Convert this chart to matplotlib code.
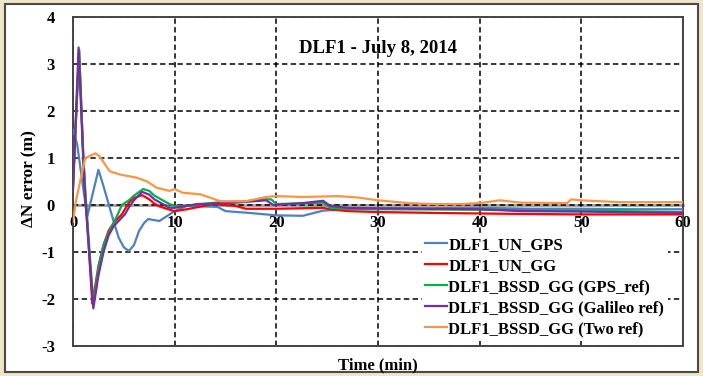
import numpy as np
import matplotlib
matplotlib.use("Agg")
import matplotlib.pyplot as plt
from matplotlib.patches import Rectangle

plt.rcParams['font.family'] = ['Liberation Serif', 'DejaVu Serif']
plt.rcParams['font.weight'] = 'bold'
plt.rcParams['axes.unicode_minus'] = False

# Blue: DLF1_UN_GPS
t_un_gps = [0, 0.4, 1.4, 2.5, 3.0, 4.0, 4.5, 5.0, 5.5, 6.0, 6.5, 7.0, 7.4, 8.5, 9.5, 10,
            11.2, 14.2, 15, 17.4, 20, 22.6, 24.6, 27, 30, 35, 40, 45, 50, 55, 60]
n_un_gps = [1.6, 1.3, -0.25, 0.75, 0.4, -0.35, -0.7, -0.9, -0.98, -0.85, -0.55, -0.38, -0.3, -0.34, -0.2, -0.13,
            -0.02, -0.04, -0.13, -0.17, -0.22, -0.23, -0.12, -0.09, -0.07, -0.07, -0.06, -0.08, -0.08, -0.09, -0.09]

# Red: DLF1_UN_GG
t_un_gg = [0, 0.6, 1.0, 1.2, 1.9, 2.5, 3.0, 3.5, 4.0, 4.8, 5.5, 6.0, 6.8, 7.5, 8.0, 8.5, 9.5, 10,
           11.2, 13.8, 16, 17, 20, 24.6, 25.3, 27, 30, 36, 44, 50, 55, 60]
n_un_gg = [0.4, 3.3, 1.1, 0.3, -2.1, -1.3, -0.85, -0.55, -0.38, -0.2, 0.05, 0.15, 0.21, 0.12, 0.03, -0.03, -0.1, -0.13,
           -0.09, 0.02, -0.02, -0.08, -0.08, -0.06, -0.09, -0.13, -0.15, -0.17, -0.19, -0.2, -0.2, -0.2]

# Green: DLF1_BSSD_GG (GPS_ref)
t_gps_ref = [0, 0.6, 1.0, 1.2, 2.0, 2.5, 3.0, 3.5, 4.4, 4.8, 5.5, 6.0, 6.9, 7.5, 8.0, 9.0, 9.5, 10,
             11.2, 14, 17, 18.7, 19.5, 20, 24.6, 25.3, 27, 30, 40, 50, 60]
n_gps_ref = [0.4, 3.3, 1.1, 0.3, -2.1, -1.35, -0.85, -0.6, -0.2, 0.0, 0.1, 0.2, 0.34, 0.3, 0.2, 0.08, 0.02, -0.02,
             -0.02, 0.05, 0.08, 0.12, 0.12, 0.02, 0.05, -0.06, -0.09, -0.09, -0.1, -0.12, -0.15]

# Purple: DLF1_BSSD_GG (Galileo ref)
t_gal_ref = [0, 0.55, 1.0, 1.15, 2.0, 2.5, 3.0, 3.5, 4.0, 5.1, 5.5, 6.0, 6.8, 7.5, 8.0, 9.0, 9.5, 10,
             12.2, 16, 19, 19.7, 22.6, 24.6, 25.3, 27, 30, 40, 44, 50, 60]
n_gal_ref = [0.3, 3.35, 1.0, 0.3, -2.2, -1.5, -1.0, -0.65, -0.45, -0.2, -0.05, 0.1, 0.28, 0.22, 0.12, 0.0, -0.06, -0.06,
             0.02, 0.05, 0.1, 0.0, 0.04, 0.09, -0.02, -0.06, -0.07, -0.09, -0.13, -0.14, -0.17]

# Orange: DLF1_BSSD_GG (Two ref)
t_two_ref = [0, 0.3, 1.2, 2.2, 2.6, 3.6, 4.6, 6.3, 7.3, 8.2, 9.5, 10, 10.8, 12.5, 14.5, 17, 19, 20,
             22.6, 26, 28, 30, 33, 35.4, 38, 40, 42, 44, 48.6, 49, 50, 53.8, 60]
n_two_ref = [-0.35, 0.1, 1.0, 1.1, 1.04, 0.72, 0.65, 0.58, 0.5, 0.37, 0.3, 0.34, 0.26, 0.23, 0.08, 0.08, 0.17, 0.19,
             0.17, 0.19, 0.16, 0.1, 0.04, 0.02, 0.02, 0.04, 0.1, 0.05, 0.04, 0.12, 0.1, 0.06, 0.06]

series = [
    (t_un_gps, n_un_gps, '#4F81BD', 'DLF1_UN_GPS'),
    (t_un_gg, n_un_gg, '#FF0000', 'DLF1_UN_GG'),
    (t_gps_ref, n_gps_ref, '#00B050', 'DLF1_BSSD_GG (GPS_ref)'),
    (t_gal_ref, n_gal_ref, '#7030A0', 'DLF1_BSSD_GG (Galileo ref)'),
    (t_two_ref, n_two_ref, '#F79646', 'DLF1_BSSD_GG (Two ref)'),
]

fig = plt.figure(figsize=(7.03, 3.76), dpi=100)
fig.patch.set_facecolor('#EFE5C7')
fig.patches.append(Rectangle((5 / 703, 4 / 376), 693 / 703, 368 / 376, transform=fig.transFigure,
                             facecolor='white', edgecolor='#4a4a4a', lw=1.5, zorder=-10))

ax = fig.add_axes([73 / 703, 30 / 376, 610 / 703, 329 / 376])
ax.set_facecolor('white')

for t, n, c, lab in series:
    ax.plot(t, n, color=c, lw=1.6, label=lab, zorder=3)

ax.set_xlim(0, 60)
ax.set_ylim(-3, 4)
ax.set_xticks(np.arange(0, 61, 10))
ax.set_yticks(np.arange(-3, 5, 1))
ax.grid(True, ls=(0, (3.5, 2.2)), color='black', lw=1.1, zorder=1)
ax.tick_params(axis='x', length=0, labelbottom=False)
ax.tick_params(axis='y', length=0, pad=13, labelsize=12)
for s in ax.spines.values():
    s.set_color('#444444')
    s.set_linewidth(1.4)

# x axis through zero
sec = ax.secondary_xaxis(3 / 7)
sec.set_xticks(np.arange(0, 61, 10))
sec.tick_params(length=0, pad=7, labelsize=12)
sec.spines['bottom'].set_color('#a0a0a0')
sec.spines['bottom'].set_linewidth(2)

ax.set_ylabel('ΔN error (m)', fontsize=12.5, fontweight='bold')
ax.yaxis.set_label_coords(-0.058, 0.51)
ax.set_xlabel('Time (min)', fontsize=12, fontweight='bold')
ax.xaxis.set_label_coords(0.5, -0.036)

ax.text(0.5, 0.905, 'DLF1 - July 8, 2014', transform=ax.transAxes, ha='center', va='center',
        fontsize=13.5, fontweight='bold')

leg = ax.legend(loc='upper left', bbox_to_anchor=(0.558, 0.366), fontsize=12, handlelength=1.3,
                handletextpad=0.1, labelspacing=0.3, borderpad=0.2, frameon=True, fancybox=False)
leg.get_frame().set_facecolor('white')
leg.get_frame().set_edgecolor('none')
leg.get_frame().set_alpha(1)

fig.savefig('out.png', dpi=100, facecolor=fig.get_facecolor())
